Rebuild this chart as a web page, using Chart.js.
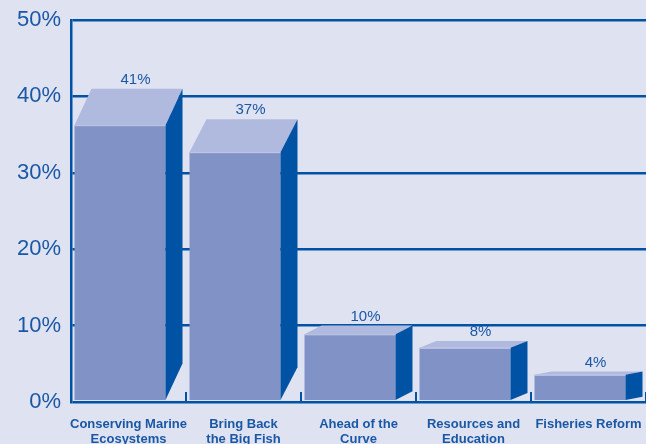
<!DOCTYPE html>
<html>
<head>
<meta charset="utf-8">
<script src="https://cdn.jsdelivr.net/npm/chart.js@4"></script>
<style>
  html, body { margin: 0; padding: 0; background: #dfe2f1; overflow: hidden; width: 646px; height: 444px; }
  canvas { display: block; }
</style>
</head>
<body>
<canvas id="chart" width="646" height="460"></canvas>
<script>
const categories = [
  ['Conserving Marine', 'Ecosystems'],
  ['Bring Back', 'the Big Fish'],
  ['Ahead of the', 'Curve'],
  ['Resources and', 'Education'],
  ['Fisheries Reform'],
]
const shares = [41, 37, 10, 8, 4]
const yTicks = [0, 10, 20, 30, 40, 50]

const BLUE = '#0053a4'
const TEXT = '#1a58a6'
const FRONT = '#8192c7'
const TOP = '#b0b9de'
const SIDE = '#0053a4'

// draws each bar as a sheared box: front face, top face, dark side
const boxes3d = {
  id: 'boxes3d',
  afterDatasetsDraw(chart) {
    const { ctx, scales } = chart
    const meta = chart.getDatasetMeta(0)
    const base = scales.y.getPixelForValue(0) - 2
    const dx = 17
    ctx.save()

    // small tick marks between categories, pointing up from the axis
    const step = (scales.x.right - scales.x.left) / shares.length
    ctx.strokeStyle = BLUE
    ctx.lineWidth = 2
    for (let i = 1; i <= shares.length; i++) {
      const bx = scales.x.left + step * i
      ctx.beginPath()
      ctx.moveTo(bx, base + 2)
      ctx.lineTo(bx, base - 8)
      ctx.stroke()
    }

    meta.data.forEach((bar, i) => {
      const { x, y, width } = bar.getProps(['x', 'y', 'width'], true)
      const dy = 0.117 * (base - y)
      const left = x - width / 2
      const right = left + width - dx
      const top = y + dy

      ctx.fillStyle = FRONT
      ctx.fillRect(left, top, right - left, base - top)

      ctx.fillStyle = TOP
      ctx.beginPath()
      ctx.moveTo(left, top)
      ctx.lineTo(left + dx, y)
      ctx.lineTo(right + dx, y)
      ctx.lineTo(right, top)
      ctx.closePath()
      ctx.fill()

      ctx.fillStyle = SIDE
      ctx.beginPath()
      ctx.moveTo(right, top)
      ctx.lineTo(right + dx, y)
      ctx.lineTo(right + dx, base - dy)
      ctx.lineTo(right, base)
      ctx.closePath()
      ctx.fill()

      ctx.strokeStyle = '#c4cbe8'
      ctx.lineWidth = 1
      ctx.beginPath()
      ctx.moveTo(left, top + 0.5)
      ctx.lineTo(right, top + 0.5)
      ctx.stroke()

      ctx.fillStyle = TEXT
      ctx.font = '15px "Liberation Sans", Arial, sans-serif'
      ctx.textAlign = 'center'
      ctx.textBaseline = 'middle'
      ctx.fillText(shares[i] + '%', x + 7, y - 9)
    })
    ctx.restore()
  },
}

new Chart(document.getElementById('chart'), {
  type: 'bar',
  data: {
    labels: categories,
    datasets: [
      {
        data: shares,
        backgroundColor: 'rgba(0,0,0,0)',
        categoryPercentage: 1,
        barPercentage: 108 / 115,
      },
    ],
  },
  options: {
    responsive: false,
    animation: false,
    devicePixelRatio: 1,
    layout: { padding: { top: 20, left: 0, right: 0, bottom: 0 } },
    plugins: {
      legend: { display: false },
      tooltip: { enabled: false },
    },
    scales: {
      x: {
        grid: { display: false },
        border: { display: false },
        ticks: {
          color: TEXT,
          padding: 7,
          maxRotation: 0,
          autoSkip: false,
          font: { family: '"Liberation Sans", Arial, sans-serif', size: 13, weight: 'bold', lineHeight: 1.15 },
        },
        afterFit: (scale) => {
          scale.height = 58
          scale.paddingLeft = 0
          scale.paddingRight = 0
        },
      },
      y: {
        min: 0,
        max: 50,
        afterBuildTicks: (scale) => { scale.ticks = yTicks.map((v) => ({ value: v })) },
        grid: { color: BLUE, lineWidth: 2.5, drawTicks: false },
        border: { color: BLUE, width: 2.5 },
        ticks: {
          color: TEXT,
          padding: 10,
          callback: (v) => v + '%',
          font: { family: '"Liberation Sans", Arial, sans-serif', size: 22 },
        },
        afterFit: (scale) => {
          scale.width = 71
          scale.paddingTop = 0
          scale.paddingBottom = 0
        },
      },
    },
  },
  plugins: [boxes3d],
})
</script>
</body>
</html>
